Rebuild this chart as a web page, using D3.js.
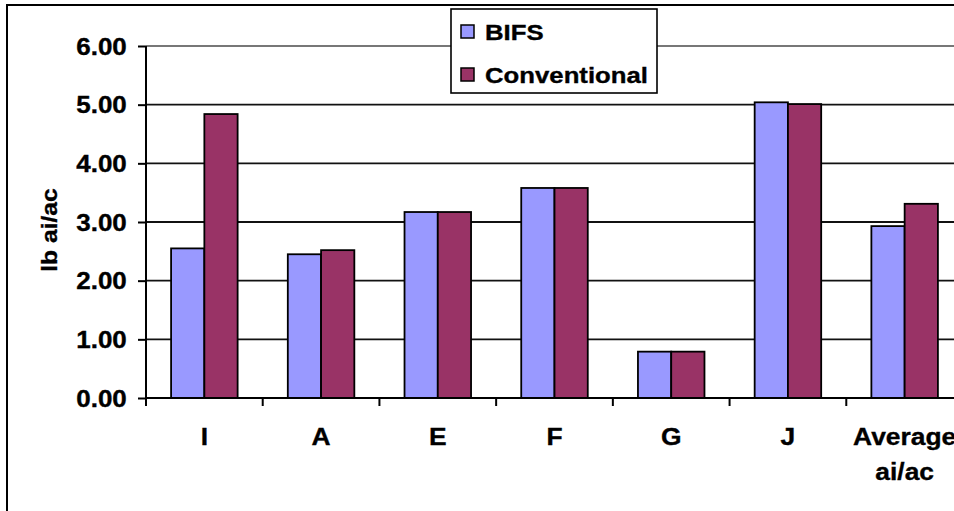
<!DOCTYPE html>
<html>
<head>
<meta charset="utf-8">
<script src="https://cdn.jsdelivr.net/npm/d3@7"></script>
<style>
  body { margin: 0; background: #fff; }
  text { font-family: "Liberation Sans", Arial, sans-serif; font-weight: bold; fill: #000; stroke: #000; stroke-width: 0.35px; }
</style>
</head>
<body>
<div id="chart"></div>
<script>
// data
var categories = ["I", "A", "E", "F", "G", "J", "Average ai/ac"];
var seriesNames = ["BIFS", "Conventional"];
var bifs = [2.55, 2.45, 3.17, 3.58, 0.79, 5.04, 2.93];
var conventional = [4.84, 2.52, 3.17, 3.58, 0.79, 5.01, 3.31];
var yTicks = [0, 1, 2, 3, 4, 5, 6];
var colors = ["#9999ff", "#993366"];

var width = 954, height = 511;
var margin = {top: 46, left: 146, bottom: 113};

var svg = d3.select("#chart").append("svg")
    .attr("width", width)
    .attr("height", height);

// outer chart border (runs off the right / bottom edge)
svg.append("rect")
    .attr("x", 7).attr("y", 5)
    .attr("width", 1000).attr("height", 600)
    .attr("fill", "#fff")
    .attr("stroke", "#000")
    .attr("stroke-width", 2);

var x = d3.scaleBand()
    .domain(categories)
    .range([margin.left, 963])
    .paddingInner(0.43)
    .paddingOuter(0.215);

var x1 = d3.scaleBand()
    .domain(seriesNames)
    .range([0, x.bandwidth()]);

var y = d3.scaleLinear()
    .domain([0, 6])
    .range([height - margin.bottom, margin.top]);

// gridlines
svg.append("g").selectAll("line")
  .data(yTicks.filter(function(d) { return d > 0; }))
  .enter().append("line")
    .attr("x1", margin.left)
    .attr("x2", width)
    .attr("y1", function(d) { return y(d); })
    .attr("y2", function(d) { return y(d); })
    .attr("stroke", function(d) { return d == 6 ? "#777" : "#111"; })
    .attr("stroke-width", function(d) { return d == 6 ? 2 : 1.8; });

// bars
var rows = categories.map(function(c, i) {
  return {cat: c, values: [bifs[i], conventional[i]]};
});

var groups = svg.append("g").selectAll("g")
  .data(rows)
  .enter().append("g")
    .attr("transform", function(d) { return "translate(" + x(d.cat) + ",0)"; });

groups.selectAll("rect")
  .data(function(d) { return d.values.map(function(v, j) { return {name: seriesNames[j], v: v, j: j}; }); })
  .enter().append("rect")
    .attr("x", function(d) { return x1(d.name); })
    .attr("width", x1.bandwidth())
    .attr("y", function(d) { return y(d.v); })
    .attr("height", function(d) { return y(0) - y(d.v); })
    .attr("fill", function(d) { return colors[d.j]; })
    .attr("stroke", "#000")
    .attr("stroke-width", 1.8);

// y axis
var yAxis = svg.append("g")
    .attr("transform", "translate(" + margin.left + ",0)")
    .call(d3.axisLeft(y).tickValues(yTicks).tickSize(8).tickPadding(9)
      .tickFormat(d3.format(".2f")));
yAxis.select(".domain").attr("stroke", "#000").attr("stroke-width", 2).attr("d", "M0," + y(6) + "V" + y(0));
yAxis.selectAll(".tick line").attr("stroke", "#000").attr("stroke-width", 2);
yAxis.selectAll(".tick text")
    .attr("fill", "#000")
    .style("font-size", "23px")
    .attr("dy", "0.36em")
    .attr("transform", "scale(1.13,1)");

// x axis line and category ticks
var step = x.step();
var boundaries = categories.map(function(c) { return x(c) - step * x.paddingInner() / 2; });
svg.append("line")
    .attr("x1", margin.left).attr("x2", width)
    .attr("y1", y(0)).attr("y2", y(0))
    .attr("stroke", "#000").attr("stroke-width", 2);
svg.append("g").selectAll("line")
  .data(boundaries)
  .enter().append("line")
    .attr("x1", function(d) { return d; })
    .attr("x2", function(d) { return d; })
    .attr("y1", y(0))
    .attr("y2", y(0) + 8)
    .attr("stroke", "#000").attr("stroke-width", 2);

// category labels
var catLabels = svg.append("g").selectAll("text")
  .data(categories)
  .enter().append("text")
    .attr("transform", function(d) {
      return "translate(" + (x(d) + x.bandwidth() / 2) + "," + (y(0) + 47) + ") scale(1.1,1)";
    })
    .attr("text-anchor", "middle")
    .style("font-size", "24px");
catLabels.each(function(d) {
  var words = d.split(" ");
  var t = d3.select(this);
  words.forEach(function(w, i) {
    t.append("tspan").attr("x", 0).attr("dy", i == 0 ? 0 : 35).text(w);
  });
});

// y axis title
svg.append("text")
    .attr("transform", "translate(57," + ((y(0) + y(6)) / 2 + 8) + ") rotate(-90) scale(1.12,1)")
    .attr("text-anchor", "middle")
    .style("font-size", "22px")
    .text("lb ai/ac");

// legend
var legend = svg.append("g").attr("transform", "translate(451,9)");
legend.append("rect")
    .attr("width", 206).attr("height", 84)
    .attr("fill", "#fff")
    .attr("stroke", "#000")
    .attr("stroke-width", 1.6);
var items = legend.selectAll("g.item")
  .data(seriesNames)
  .enter().append("g")
    .attr("class", "item")
    .attr("transform", function(d, i) { return "translate(10," + (16 + i * 43) + ")"; });
items.append("rect")
    .attr("width", 13).attr("height", 13)
    .attr("fill", function(d, i) { return colors[i]; })
    .attr("stroke", "#000")
    .attr("stroke-width", 1.5);
items.append("text")
    .attr("transform", "translate(24,15) scale(1.17,1)")
    .style("font-size", "22px")
    .text(function(d) { return d; });
</script>
</body>
</html>
